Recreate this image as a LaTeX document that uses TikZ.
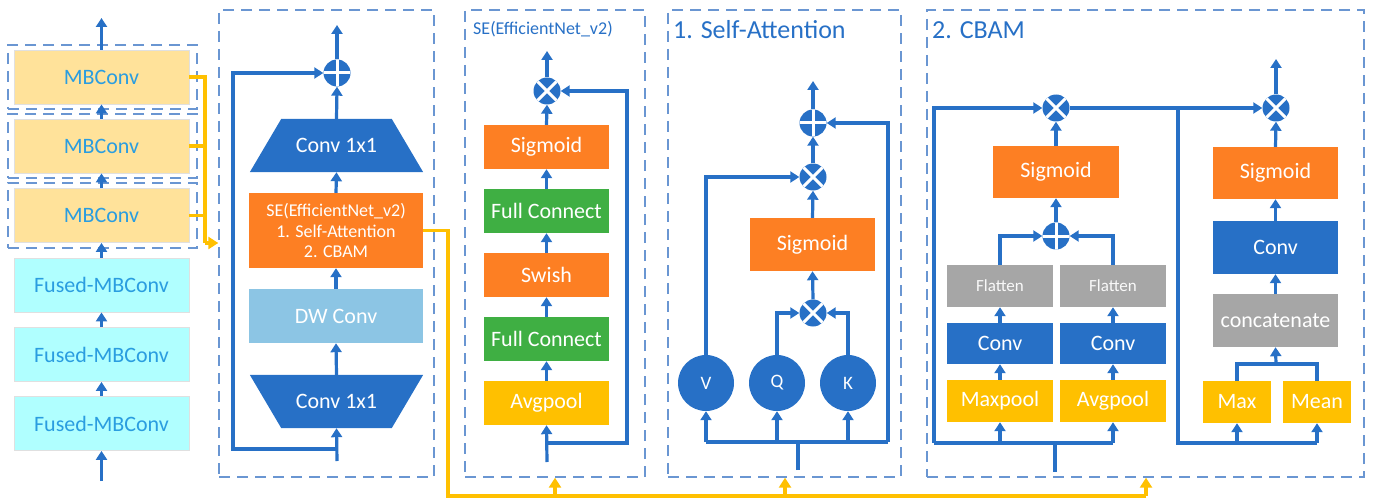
\documentclass[tikz,border=0pt]{standalone}
\usepackage{fontspec}
\setmainfont{Carlito}
\usetikzlibrary{arrows.meta,calc,backgrounds}

\definecolor{cblue}{HTML}{2770C6}
\definecolor{corange}{HTML}{FD7F23}
\definecolor{cgreen}{HTML}{3FAF43}
\definecolor{cyellow}{HTML}{FFC000}
\definecolor{cgray}{HTML}{A6A6A6}
\definecolor{cdw}{HTML}{8CC5E4}
\definecolor{cmb}{HTML}{FFE29A}
\definecolor{cfused}{HTML}{B0FFFF}
\definecolor{cmbtext}{HTML}{2A9DE0}
\definecolor{cframe}{HTML}{6A96D2}

\tikzset{
  fs/.style={font=\fontsize{#1}{#1}\selectfont},
  blk/.style={rectangle, inner sep=0pt, text=white, fs=22},
  orangeblk/.style={blk, fill=corange},
  greenblk/.style={blk, fill=cgreen},
  yellowblk/.style={blk, fill=cyellow},
  grayblk/.style={blk, fill=cgray},
  blueblk/.style={blk, fill=cblue},
  mbblk/.style={rectangle, inner sep=0pt, fill=cmb, draw=black!12, line width=0.8pt,
    text=cmbtext, fs=22, minimum width=175, minimum height=54},
  fusedblk/.style={mbblk, fill=cfused},
  frame/.style={rectangle, draw=cframe, line width=1.4pt, dash pattern=on 11pt off 7pt, inner sep=0pt},
  flow/.style={draw=cblue, line width=3.2pt, -{Triangle[length=9pt,width=11pt]}},
  link/.style={draw=cblue, line width=3.2pt},
  yel/.style={draw=cyellow, line width=3.2pt},
  yelflow/.style={yel, -{Triangle[length=10pt,width=12pt]}},
  opnode/.style={circle, fill=cblue, minimum size=27, inner sep=0pt},
  oplus/.style={opnode, path picture={
      \draw[white, line width=3pt]
        (path picture bounding box.north) -- (path picture bounding box.south)
        (path picture bounding box.west) -- (path picture bounding box.east);}},
  otimes/.style={opnode, path picture={
      \draw[white, line width=3pt]
        ($(path picture bounding box.center)+(-10,-10)$) -- ($(path picture bounding box.center)+(10,10)$)
        ($(path picture bounding box.center)+(-10,10)$) -- ($(path picture bounding box.center)+(10,-10)$);}},
  qkv/.style={circle, fill=cblue, minimum size=56, inner sep=0pt, text=white, fs=19},
  title/.style={anchor=west, inner sep=0pt, text=cblue},
}

\begin{document}
\begin{tikzpicture}[x=1pt,y=-1pt]
\useasboundingbox (0,0) rectangle (1373,500);

% ---------- backbone stages ----------
\node[frame, minimum width=189, minimum height=64] (g1) at (102.5,77) {};
\node[frame, minimum width=189, minimum height=64] (g2) at (102.5,146) {};
\node[frame, minimum width=189, minimum height=65] (g3) at (102.5,215.5) {};
\node[mbblk] (mb1) at (101.5,77) {MBConv};
\node[mbblk] (mb2) at (101.5,146) {MBConv};
\node[mbblk] (mb3) at (101.5,215.5) {MBConv};
\node[fusedblk] (f1) at (101.5,285) {Fused-MBConv};
\node[fusedblk] (f2) at (101.5,354.5) {Fused-MBConv};
\node[fusedblk] (f3) at (101.5,423.5) {Fused-MBConv};
\coordinate (bbout) at (101.5,18);
\coordinate (bbin) at (101.5,481);
\draw[flow] (mb1.north) -- (bbout);
\draw[flow] (mb2.north) -- (mb1.south);
\draw[flow] (mb3.north) -- (mb2.south);
\draw[flow] (f1.north) -- (mb3.south);
\draw[flow] (f2.north) -- (f1.south);
\draw[flow] (f3.north) -- (f2.south);
\draw[flow] (bbin) -- (f3.south);

% ---------- MBConv block ----------
\node[frame, minimum width=215, minimum height=467] (pB) at (326.5,243.5) {};
\node[oplus] (add1) at (337,73) {};
\coordinate (out1) at (337,25);
\node[blk, minimum width=173, minimum height=53] (ct) at (336.5,145.5) {Conv 1x1};
\node[orangeblk, minimum width=174, minimum height=75, align=center,
      font=\fontsize{18}{20.5}\selectfont] (se) at (336,230.5)
      {SE(EfficientNet\_v2)\\1. Self-Attention\\2. CBAM};
\node[blk, fill=cdw, minimum width=174, minimum height=54] (dw) at (336,316) {DW Conv};
\node[blk, minimum width=173, minimum height=53] (cb) at (336.5,401.5) {Conv 1x1};
\begin{scope}[on background layer]
  % expanding and projecting 1x1 convolutions as trapezoids
  \fill[cblue] (ct.south west) -- (ct.south east)
    -- ([xshift=-31.5pt]ct.north east) -- ([xshift=31.5pt]ct.north west) -- cycle;
  \fill[cblue] (cb.north west) -- (cb.north east)
    -- ([xshift=-31.5pt]cb.south east) -- ([xshift=31.5pt]cb.south west) -- cycle;
\end{scope}
\coordinate (in1) at (337,461);
\coordinate (sk1) at (337,449);
\coordinate (sk2) at (233,449);
\coordinate (sk3) at (233,73);
\draw[flow] (add1.north) -- (out1);
\draw[flow] (ct.north) -- (add1.south);
\draw[flow] (se.north) -- (ct.south);
\draw[flow] (dw.north) -- (se.south);
\draw[flow] (cb.north) -- (dw.south);
\draw[flow] (in1) -- (cb.south);
\draw[flow] (sk1) -- (sk2) -- (sk3) -- (add1.west);

% ---------- SE (EfficientNet_v2) ----------
\node[frame, minimum width=180, minimum height=467] (pC) at (555,243.5) {};
\node[title, fs=18] (tC) at (473,29) {SE(EfficientNet\_v2)};
\node[otimes] (m1) at (547,91) {};
\coordinate (out2) at (547,51);
\node[orangeblk, minimum width=125, minimum height=44] (sg1) at (546.5,147) {Sigmoid};
\node[greenblk, minimum width=125, minimum height=44] (fc2) at (546.5,211) {Full Connect};
\node[orangeblk, minimum width=125, minimum height=44] (sw) at (546.5,275) {Swish};
\node[greenblk, minimum width=125, minimum height=44] (fc1) at (546.5,339) {Full Connect};
\node[yellowblk, minimum width=125, minimum height=44] (ap1) at (546.5,403) {Avgpool};
\coordinate (in2) at (547,462);
\coordinate (br2a) at (547,443);
\coordinate (br2b) at (627,443);
\coordinate (br2c) at (627,91);
\draw[flow] (m1.north) -- (out2);
\draw[flow] (sg1.north) -- (m1.south);
\draw[flow] (fc2.north) -- (sg1.south);
\draw[flow] (sw.north) -- (fc2.south);
\draw[flow] (fc1.north) -- (sw.south);
\draw[flow] (ap1.north) -- (fc1.south);
\draw[flow] (in2) -- (ap1.south);
\draw[flow] (br2a) -- (br2b) -- (br2c) -- (m1.east);

% ---------- Self-Attention ----------
\node[frame, minimum width=233, minimum height=467] (pD) at (784.5,243.5) {};
\node[title, fs=26] (tD) at (673,30) {1. Self-Attention};
\node[oplus] (add2) at (813,123) {};
\coordinate (out3) at (813,81);
\node[otimes] (m2) at (813,177) {};
\node[orangeblk, minimum width=125, minimum height=53] (sg2) at (812.5,244.5) {Sigmoid};
\node[otimes] (m3) at (813,313) {};
\node[qkv] (V) at (706,383) {V};
\node[qkv] (Q) at (777,383) {Q};
\node[qkv] (K) at (848,383) {K};
\coordinate (in3) at (798,470);
\coordinate (bus3) at (798,442);
\coordinate (bv) at (706,442);
\coordinate (bq) at (777,442);
\coordinate (bk) at (848,442);
\coordinate (br3a) at (888,442);
\coordinate (br3b) at (888,123);
\coordinate (vup) at (706,177);
\coordinate (qup) at (777,313);
\coordinate (kup) at (848,313);
\draw[flow] (add2.north) -- (out3);
\draw[flow] (m2.north) -- (add2.south);
\draw[flow] (sg2.north) -- (m2.south);
\draw[flow] (m3.north) -- (sg2.south);
\draw[flow] (V.north) -- (vup) -- (m2.west);
\draw[flow] (Q.north) -- (qup) -- (m3.west);
\draw[flow] (K.north) -- (kup) -- (m3.east);
\draw[link] (in3) -- (bus3);
\draw[link] (bv) -- (br3a);
\draw[flow] (bv) -- (V.south);
\draw[flow] (bq) -- (Q.south);
\draw[flow] (bk) -- (K.south);
\draw[flow] (br3a) -- (br3b) -- (add2.east);

% ---------- CBAM ----------
\node[frame, minimum width=437, minimum height=467] (pE) at (1145.5,243.5) {};
\node[title, fs=26] (tE) at (932,30) {2. CBAM};
% channel attention
\node[otimes] (m4) at (1056,108) {};
\node[orangeblk, minimum width=126, minimum height=52] (sg3) at (1056,172) {Sigmoid};
\node[oplus] (add3) at (1056,236) {};
\node[grayblk, fs=17, text=white!95!gray, minimum width=106, minimum height=42] (flL) at (1000,286) {Flatten};
\node[grayblk, fs=17, text=white!95!gray, minimum width=106, minimum height=42] (flR) at (1113,286) {Flatten};
\node[blueblk, minimum width=106, minimum height=41] (cvL) at (1000,343.5) {Conv};
\node[blueblk, minimum width=106, minimum height=41] (cvR) at (1113,343.5) {Conv};
\node[yellowblk, minimum width=106, minimum height=42] (mp) at (1000,401) {Maxpool};
\node[yellowblk, minimum width=106, minimum height=42] (ap2) at (1113,401) {Avgpool};
\coordinate (in4) at (1055,472);
\coordinate (bus4) at (1055,443);
\coordinate (b4L) at (934,443);
\coordinate (b4m) at (1000,443);
\coordinate (b4a) at (1113,443);
\coordinate (b4up) at (934,108);
\coordinate (flLup) at (1000,236);
\coordinate (flRup) at (1113,236);
\draw[link] (in4) -- (bus4);
\draw[link] (b4L) -- (b4a);
\draw[flow] (b4m) -- (mp.south);
\draw[flow] (b4a) -- (ap2.south);
\draw[flow] (mp.north) -- (cvL.south);
\draw[flow] (ap2.north) -- (cvR.south);
\draw[flow] (cvL.north) -- (flL.south);
\draw[flow] (cvR.north) -- (flR.south);
\draw[flow] (flL.north) -- (flLup) -- (add3.west);
\draw[flow] (flR.north) -- (flRup) -- (add3.east);
\draw[flow] (add3.north) -- (sg3.south);
\draw[flow] (sg3.north) -- (m4.south);
\draw[flow] (b4L) -- (b4up) -- (m4.west);
% spatial attention
\node[otimes] (m5) at (1276,108) {};
\coordinate (out5) at (1276,59);
\node[orangeblk, minimum width=125, minimum height=52] (sg4) at (1275.5,173) {Sigmoid};
\node[blueblk, minimum width=125, minimum height=53] (cv5) at (1275.5,247.5) {Conv};
\node[grayblk, minimum width=125, minimum height=53] (cat) at (1275.5,320.5) {concatenate};
\node[yellowblk, minimum width=68, minimum height=42] (mx) at (1237,402) {Max};
\node[yellowblk, minimum width=68, minimum height=42] (mn) at (1317,402) {Mean};
\coordinate (sp1) at (1178,108);
\coordinate (sp2) at (1178,443);
\coordinate (sp3) at (1237,443);
\coordinate (sp4) at (1317,443);
\coordinate (mxup) at (1237,364);
\coordinate (mnup) at (1317,364);
\coordinate (catin) at (1276,364);
\draw[flow] (m4.east) -- (m5.west);
\draw[link] (sp1) -- (sp2) -- (sp4);
\draw[flow] (sp3) -- (mx.south);
\draw[flow] (sp4) -- (mn.south);
\draw[link] (mx.north) -- (mxup) -- (mnup) -- (mn.north);
\draw[flow] (catin) -- (cat.south);
\draw[flow] (cat.north) -- (cv5.south);
\draw[flow] (cv5.north) -- (sg4.south);
\draw[flow] (sg4.north) -- (m5.south);
\draw[flow] (m5.north) -- (out5);

% ---------- attention module selection (yellow) ----------
\coordinate (y1) at (205,77);
\coordinate (y2) at (205,146);
\coordinate (y3) at (205,215.5);
\coordinate (y4) at (205,243);
\draw[yel] (mb1.east) -- (y1) -- (y4);
\draw[yel] (mb2.east) -- (y2);
\draw[yel] (mb3.east) -- (y3);
\draw[yelflow] (y4) -- (pB.west |- y4);
\coordinate (ya) at (448,230.5);
\coordinate (yb) at (448,496);
\coordinate (yc) at (1146,496);
\coordinate (yC) at (555,496);
\coordinate (yD) at (785,496);
\draw[yel] (se.east) -- (ya) -- (yb) -- (yc);
\draw[yelflow] (yC) -- (pC.south -| yC);
\draw[yelflow] (yD) -- (pD.south -| yD);
\draw[yelflow] (yc) -- (pE.south -| yc);
\end{tikzpicture}
\end{document}
